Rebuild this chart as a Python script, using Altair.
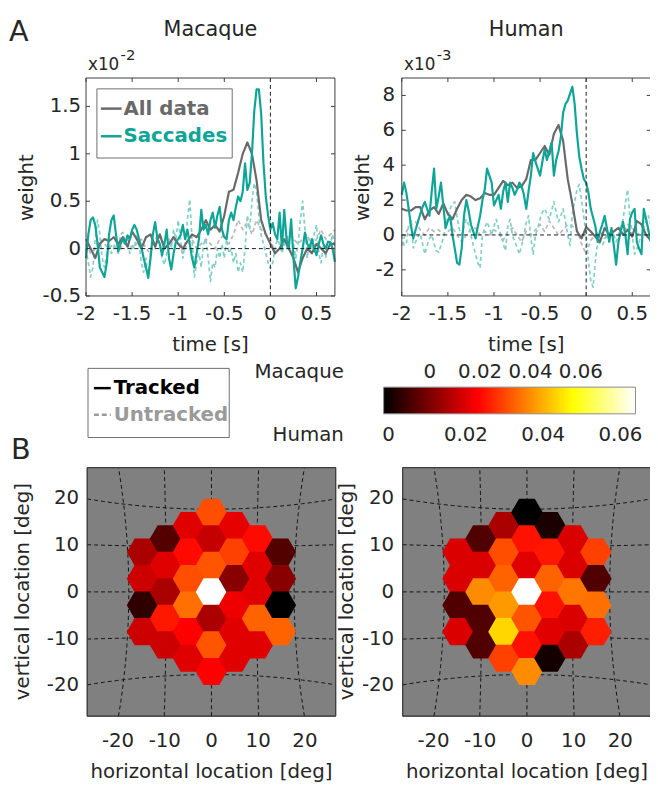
import numpy as np
import pandas as pd
import altair as alt

# ------------------------------------------------------------------ data
T_START = -2.0
STEP_FINE = 0.025     # sampling of the saccade (teal) kernels
STEP_COARSE = 0.05    # sampling of the all-data (gray) kernels

# Macaque kernels (units of 1e-2)
MAC_SACCADES = [
    -0.10, 0.15, 0.30, 0.33, 0.25, 0.05, -0.20, -0.25, -0.30, -0.15,
    0.15, 0.30, 0.35, 0.15, -0.03, 0.05, 0.10, 0.05, 0.14, 0.10,
    0.20, 0.25, 0.20, 0.10, 0.02, -0.10, -0.20, -0.31, -0.10, 0.15,
    0.28, 0.10, 0.05, -0.07, 0.05, 0.20, -0.10, -0.22, -0.05, 0.07,
    0.10, 0.14, 0.25, 0.10, 0.20, 0.05, -0.10, -0.20, -0.05, 0.10,
    0.41, 0.20, 0.25, 0.15, 0.30, 0.38, 0.22, 0.35, 0.44, 0.20,
    0.12, 0.10, 0.30, 0.38, 0.30, 0.44, 0.55, 0.50, 0.60, 0.90,
    0.62, 0.69, 1.00, 1.45, 1.68, 1.68, 1.42, 0.90, 0.55, 0.35,
    0.20, 0.27, 0.15, 0.10, 0.38, 0.00, 0.41, 0.10, 0.00, 0.31,
    -0.10, -0.42, -0.30, -0.14, 0.00, 0.17, 0.05, 0.00, 0.10, 0.00,
    -0.07, 0.05, 0.14, 0.05, 0.00, 0.07, 0.07, 0.00, -0.14,
]
MAC_SACCADES_UNTRACKED = [
    0.00, -0.15, -0.30, -0.20, 0.10, 0.30, 0.15, -0.10, -0.20, -0.05,
    0.05, -0.05, 0.00, 0.10, 0.00, 0.15, 0.17, 0.07, 0.10, -0.05,
    0.05, 0.00, 0.15, 0.05, -0.15, -0.25, -0.10, -0.30, -0.05, 0.10,
    0.00, 0.15, 0.05, -0.10, -0.17, -0.05, 0.10, 0.00, 0.20, 0.10,
    0.30, 0.10, -0.10, 0.05, 0.30, 0.52, 0.10, -0.30, -0.15, -0.05,
    -0.20, 0.05, 0.10, -0.10, -0.35, -0.15, -0.20, 0.00, -0.10, 0.05,
    -0.10, 0.10, -0.05, 0.00, -0.15, -0.05, -0.25, -0.15, -0.25, 0.00,
    0.35, 0.20, 0.50, 0.69, 0.60, 0.34, 0.14, 0.05, -0.05, -0.15,
    -0.21, -0.15, 0.00, 0.10, 0.05, -0.05, 0.05, 0.00, 0.10, 0.20,
    0.05, -0.10, 0.05, 0.30, 0.50, 0.20, -0.10, 0.10, -0.05, 0.15,
    0.25, -0.05, -0.15, 0.05, -0.10, 0.10, 0.05, 0.15, 0.00,
]
MAC_ALL = [
    0.10, 0.00, -0.10, 0.05, 0.10, 0.08, 0.12, 0.05, 0.12, 0.02,
    0.18, 0.10, 0.00, 0.12, 0.15, 0.02, 0.15, 0.00, 0.05, 0.12,
    0.05, 0.00, 0.08, 0.15, 0.12, 0.20, 0.30, 0.20, 0.25, 0.18,
    0.35, 0.60, 0.62, 0.80, 1.00, 1.12, 1.00, 0.72, 0.30, 0.15,
    0.05, -0.05, 0.00, 0.10, 0.00, -0.10, -0.25, -0.10, 0.00, -0.05,
    0.05, 0.00, -0.05, 0.05, 0.05,
]
MAC_ALL_UNTRACKED = [
    0.05, -0.05, 0.00, 0.10, 0.05, 0.00, 0.05, -0.05, 0.05, 0.10,
    0.00, 0.05, 0.10, 0.00, -0.05, 0.10, 0.15, 0.05, 0.00, 0.10,
    0.05, -0.05, 0.05, 0.10, 0.00, 0.05, 0.10, 0.05, 0.00, 0.10,
    0.15, 0.05, 0.15, 0.30, 0.20, 0.28, 0.15, 0.30, 0.20, 0.15,
    0.10, -0.05, 0.00, 0.05, 0.15, 0.10, 0.05, 0.10, 0.15, 0.00,
    0.10, 0.20, 0.10, 0.15, 0.20,
]

# Human kernels (units of 1e-3)
HUM_SACCADES = [
    2.30, 3.00, 2.40, 1.50, 0.50, -0.20, 0.30, 0.75, 1.20, 1.60,
    1.90, 1.50, 1.10, 2.50, 3.80, 1.50, 2.20, 3.00, 1.70, 0.40,
    0.80, 1.10, 0.00, -0.80, -1.60, -1.70, -0.75, 1.10, 2.00, 1.40,
    0.60, 0.20, -0.20, 0.50, 1.10, 2.00, 2.60, 3.80, 3.40, 3.00,
    1.70, 2.00, 2.30, 1.50, 2.50, 3.00, 1.90, 3.00, 2.70, 2.30,
    2.60, 3.00, 2.80, 2.30, 1.50, 2.50, 3.40, 4.70, 4.20, 3.80,
    3.40, 4.20, 4.90, 4.30, 4.80, 5.30, 3.40, 4.30, 4.80, 5.60,
    7.00, 7.50, 7.70, 8.10, 8.50, 7.50, 5.80, 4.50, 3.80, 3.20,
    3.00, 2.40, 1.50, 1.00, 0.50, -0.40, 0.20, 0.60, 1.10, 0.40,
    -0.40, 0.40, -0.60, -1.70, -0.40, 0.20, 0.75, 0.00, -1.10, 0.90,
    1.30, 1.50, -0.40, -0.80, -1.10, 1.50, 0.90, 0.30, -0.40,
]
HUM_SACCADES_UNTRACKED = [
    0.00, -0.60, -0.50, 0.60, 0.80, -0.75, -0.40, -0.10, 0.10, -0.50,
    -1.10, -0.60, -0.20, 0.00, -0.50, -0.90, -1.00, -0.60, -0.20, 0.50,
    1.10, 1.50, 1.80, 1.90, 1.00, 0.30, 0.00, 0.50, 0.90, 0.60,
    0.00, -0.60, -1.10, -1.60, -1.90, 0.00, 0.40, 0.75, 0.40, 0.00,
    0.50, 0.90, 0.40, 0.00, -0.50, -0.90, 0.50, 0.90, 0.00, -0.40,
    -0.70, -1.10, -0.60, 0.00, 0.70, 1.10, -0.20, -1.10, 0.00, 0.40,
    0.90, 1.30, 1.50, 1.20, 0.90, 1.40, 1.90, 1.30, 0.75, 1.10,
    1.50, 0.80, 0.00, -0.60, 1.20, 1.90, 2.60, 2.90, 2.00, 1.00,
    0.00, -1.50, -2.60, -3.00, -1.50, -0.40, -0.50, -0.60, -0.30, 0.00,
    0.10, 0.20, 0.00, -0.40, 0.00, 0.50, 0.90, 1.80, 2.60, 1.00,
    0.00, -1.10, -0.80, -0.40, 0.00, 0.40, 0.80, 1.10, 0.60,
]
HUM_ALL = [
    1.50, 1.40, 1.40, 1.60, 1.60, 0.90, 1.40, 1.60, 1.20, 1.80,
    1.20, 0.90, 1.50, 2.00, 2.30, 2.20, 2.00, 2.10, 2.40, 2.30,
    2.30, 2.70, 3.10, 2.85, 3.00, 2.70, 2.80, 3.20, 4.30, 4.30,
    4.70, 5.10, 4.60, 5.80, 6.30, 5.40, 3.20, 1.80, 0.20, -0.20,
    0.45, 0.20, -0.10, -0.40, 0.40, 0.00, 0.20, 0.40, 0.00, 0.30,
    -0.10, 0.80, 0.60, 0.00, -0.30,
]
HUM_ALL_UNTRACKED = [
    -0.60, 0.20, 0.60, 0.75, 0.30, 0.00, 0.40, 0.20, 0.30, 0.00,
    0.20, 0.40, 0.00, -0.40, 0.00, 0.30, 0.40, 0.00, 0.20, 0.00,
    0.30, 0.10, -0.30, 0.20, 0.40, 0.00, -0.40, 0.20, 0.00, 0.30,
    0.60, 0.20, 0.80, 0.40, 0.00, 0.30, 0.60, 0.50, 0.30, -0.50,
    -1.10, -0.30, 0.00, 0.20, -0.20, 0.00, 0.20, 0.40, 0.10, 0.60,
    0.40, 0.00, 0.20, 0.40, 0.00,
]

TIME_TICKS = [-2, -1.5, -1, -0.5, 0, 0.5]
TIME_LABELS = ["-2", "-1.5", "-1", "-0.5", "0", "0.5"]
MAC_Y_TICKS = [-0.5, 0, 0.5, 1, 1.5]
MAC_Y_LABELS = ["-0.5", "0", "0.5", "1", "1.5"]
HUM_Y_TICKS = [-2, 0, 2, 4, 6, 8]
HUM_Y_LABELS = ["-2", "0", "2", "4", "6", "8"]
LOC_TICKS = [-20, -10, 0, 10, 20]
LOC_LABELS = ["-20", "-10", "0", "10", "20"]
CBAR_TICKS = [0, 0.02, 0.04, 0.06]
CBAR_LABELS = ["0", "0.02", "0.04", "0.06"]

# hexagonal receptive-field grid (column, half-row index)
HEX_COL = [-3] * 4 + [-2] * 5 + [-1] * 6 + [0] * 7 + [1] * 6 + [2] * 5 + [3] * 4
HEX_ROW = [3, 1, -1, -3,
           4, 2, 0, -2, -4,
           5, 3, 1, -1, -3, -5,
           6, 4, 2, 0, -2, -4, -6,
           5, 3, 1, -1, -3, -5,
           4, 2, 0, -2, -4,
           3, 1, -1, -3]
MAC_HEX = [0.0067, 0.0117, -0.0113, 0.0117,
           -0.0058, 0.0147, 0.0067, 0.0227, 0.0117,
           0.0147, 0.0207, 0.0307, 0.0357, 0.0192, 0.0147,
           0.0307, 0.0107, 0.0317, 0.0817, 0.0067, 0.0317, 0.0192,
           0.0157, 0.0287, 0.0017, 0.0167, 0.0147, 0.0147,
           0.0207, 0.0147, 0.0147, 0.0337, 0.0147,
           -0.0063, 0.0017, -0.0183, 0.0337]
HUM_HEX = [0.0196, 0.0196, 0.0065, 0.0196,
           0.0065, 0.0196, 0.0365, 0.0065, 0.0065,
           0.0150, 0.0306, 0.0326, 0.0378, 0.0437, 0.0293,
           -0.0013, 0.0248, 0.0202, 0.0639, 0.0313, 0.0248, 0.0365,
           0.0013, 0.0254, 0.0326, 0.0248, 0.0202, 0.0007,
           0.0196, 0.0196, 0.0346, 0.0196, 0.0150,
           0.0293, 0.0065, 0.0339, 0.0261]
MAC_CLIM = [-0.0183, 0.0817]
HUM_CLIM = [-0.0013, 0.0639]

# curved dashed reference grid: level at centre and at the border
GRID_CENTER = [-17.7, -9.7, 0.0, 9.7, 17.7]
GRID_EDGE = [-19.9, -10.1, 0.0, 10.1, 19.9]

# ------------------------------------------------------------------ style / layout
FONT = "DejaVu Sans"
FS = 20
INK = "#262626"
FRAME = "#3c3c3c"
TEAL = "#0ea597"
TEAL_LIGHT = "#80d0c8"
GRAY = "#696969"
GRAY_LIGHT = "#b8b8b8"
HOT = ["#000000", "#ff0000", "#ffff00", "#ffffff"]
W, H = 650, 782

TOP_Y0, TOP_Y1 = 66.0, 286.7
TL_X0, TL_X1 = 79.0, 331.0
TR_X0, TR_X1 = 398.7, 650.7
BOT_Y0, BOT_Y1 = 460.5, 712.1
BL_X0, BL_X1 = 80.2, 331.8
BR_X0, BR_X1 = 399.6, 651.2
LOC_LIM = 26.6
CB_X0, CB_X1, CB_Y0, CB_Y1 = 380.3, 635.3, 379.0, 406.0


def sc(domain, rng):
    return alt.Scale(domain=domain, range=rng, nice=False, zero=False)


TL_X = sc([-2, 0.7], [TL_X0, TL_X1])
TL_Y = sc([-0.5, 1.8], [TOP_Y1, TOP_Y0])
TR_X = sc([-2, 0.7], [TR_X0, TR_X1])
TR_Y = sc([-3.5, 9], [TOP_Y1, TOP_Y0])
BL_X = sc([-LOC_LIM, LOC_LIM], [BL_X0, BL_X1])
BR_X = sc([-LOC_LIM, LOC_LIM], [BR_X0, BR_X1])
B_Y = sc([-LOC_LIM, LOC_LIM], [BOT_Y1, BOT_Y0])
CB_MAC = sc(MAC_CLIM, [CB_X0, CB_X1])
CB_HUM = sc(HUM_CLIM, [CB_X0, CB_X1])


def times(n, step):
    return np.round(T_START + step * np.arange(n), 4)


def series(vals, step, xs, ys, color, width, dash=None):
    kw = dict(color=color, strokeWidth=width, strokeJoin="round")
    if dash:
        kw["strokeDash"] = dash
    df = pd.DataFrame({"t": times(len(vals), step), "v": vals})
    return alt.Chart(df).mark_line(**kw).encode(
        x=alt.X("t:Q", scale=xs, axis=None), y=alt.Y("v:Q", scale=ys, axis=None))


def txt(s, x, y, size=FS, align="center", angle=0, bold=False, color=INK):
    kw = dict(fontSize=size, align=align, baseline="middle", font=FONT, color=color)
    if angle:
        kw["angle"] = angle
    if bold:
        kw["fontWeight"] = "bold"
    return alt.Chart(pd.DataFrame({"s": [s]})).mark_text(**kw).encode(
        x=alt.value(x), y=alt.value(y), text="s:N")


def box(x1, x2, y1, y2, stroke, width=1.0, fill=None):
    kw = dict(stroke=stroke, strokeWidth=width)
    if fill:
        kw["fill"] = fill
    else:
        kw["fillOpacity"] = 0
    return alt.Chart(pd.DataFrame({"k": [0]})).mark_rect(**kw).encode(
        x=alt.value(x1), x2=alt.value(x2), y=alt.value(y1), y2=alt.value(y2))


def hseg(x1, x2, y, color, width=2.0, dash=None):
    kw = dict(color=color, strokeWidth=width)
    if dash:
        kw["strokeDash"] = dash
    return alt.Chart(pd.DataFrame({"k": [0]})).mark_rule(**kw).encode(
        x=alt.value(x1), x2=alt.value(x2), y=alt.value(y))


def vticks(vals, xs, y1, y2, color=FRAME):
    return alt.Chart(pd.DataFrame({"v": vals})).mark_rule(color=color, strokeWidth=1).encode(
        x=alt.X("v:Q", scale=xs, axis=None), y=alt.value(y1), y2=alt.value(y2))


def hticks(vals, ys, x1, x2, color=FRAME):
    return alt.Chart(pd.DataFrame({"v": vals})).mark_rule(color=color, strokeWidth=1).encode(
        y=alt.Y("v:Q", scale=ys, axis=None), x=alt.value(x1), x2=alt.value(x2))


def xlabels(vals, labels, xs, y, size=FS):
    return alt.Chart(pd.DataFrame({"v": vals, "s": labels})).mark_text(
        fontSize=size, font=FONT, color=INK, baseline="middle", align="center").encode(
        x=alt.X("v:Q", scale=xs, axis=None), y=alt.value(y), text="s:N")


def ylabels(vals, labels, ys, x, size=FS):
    return alt.Chart(pd.DataFrame({"v": vals, "s": labels})).mark_text(
        fontSize=size, font=FONT, color=INK, baseline="middle", align="right").encode(
        y=alt.Y("v:Q", scale=ys, axis=None), x=alt.value(x), text="s:N")


def zero_lines(xs, ys, x0, x1):
    h = alt.Chart(pd.DataFrame({"v": [0]})).mark_rule(
        color="#1a1a1a", strokeWidth=1, strokeDash=[4, 3]).encode(
        y=alt.Y("v:Q", scale=ys, axis=None), x=alt.value(x0), x2=alt.value(x1))
    v = alt.Chart(pd.DataFrame({"v": [0]})).mark_rule(
        color="#1a1a1a", strokeWidth=1, strokeDash=[4, 3]).encode(
        x=alt.X("v:Q", scale=xs, axis=None), y=alt.value(TOP_Y0), y2=alt.value(TOP_Y1))
    return [h, v]


def kernel_panel(sac, sac_u, allv, all_u, xs, ys, x0, x1, yt, ylab, ylab_x):
    layers = [
        series(all_u, STEP_COARSE, xs, ys, GRAY_LIGHT, 1.7, [4, 3]),
        series(sac_u, STEP_FINE, xs, ys, TEAL_LIGHT, 1.7, [4, 3]),
        series(allv, STEP_COARSE, xs, ys, GRAY, 2.2),
        series(sac, STEP_FINE, xs, ys, TEAL, 2.2),
    ]
    layers += zero_lines(xs, ys, x0, x1)
    layers += [
        box(x0, x1, TOP_Y0, TOP_Y1, FRAME, 1.0),
        vticks(TIME_TICKS, xs, TOP_Y1, TOP_Y1 - 4),
        vticks(TIME_TICKS, xs, TOP_Y0, TOP_Y0 + 4),
        hticks(yt, ys, x0, x0 + 4),
        hticks(yt, ys, x1, x1 - 4),
        xlabels(TIME_TICKS, TIME_LABELS, xs, 305),
        ylabels(yt, ylab, ys, ylab_x),
    ]
    return layers


# hex centres in degrees
HEX_R_DEG = 3.28
PX_PER_DEG = (BL_X1 - BL_X0) / (2 * LOC_LIM)
HEX_X = np.array(HEX_COL) * 1.5 * HEX_R_DEG
HEX_Y = np.array(HEX_ROW) * (np.sqrt(3) / 2) * HEX_R_DEG
HEX_SIZE = (2 * HEX_R_DEG * PX_PER_DEG + 0.8) ** 2
HEX_PATH = "M1,0L0.5,0.866L-0.5,0.866L-1,0L-0.5,-0.866L0.5,-0.866Z"


def grid_frame():
    s = np.linspace(-LOC_LIM, LOC_LIM, 61)
    rows = []
    for i, (c, e) in enumerate(zip(GRID_CENTER, GRID_EDGE)):
        lvl = c + (e - c) * (s / LOC_LIM) ** 2
        for k, (a, b) in enumerate(zip(s, lvl)):
            rows.append(("h%d" % i, k, a, b))
            rows.append(("v%d" % i, k, b, a))
    return pd.DataFrame(rows, columns=["g", "k", "x", "y"])


GRID_DF = grid_frame()


def hex_panel(vals, clim, xs, x0, x1, ylab_x):
    span = clim[1] - clim[0]
    cs = alt.Scale(domain=[clim[0], clim[0] + 0.375 * span, clim[0] + 0.75 * span, clim[1]],
                   range=HOT, interpolate="rgb", clamp=True)
    df = pd.DataFrame({"x": HEX_X, "y": HEX_Y, "w": vals})
    grid = alt.Chart(GRID_DF).mark_line(color="#111111", strokeWidth=1, strokeDash=[4, 3]).encode(
        x=alt.X("x:Q", scale=xs, axis=None), y=alt.Y("y:Q", scale=B_Y, axis=None),
        detail="g:N", order="k:Q")
    hexes = alt.Chart(df).mark_point(shape=HEX_PATH, filled=True, opacity=1,
                                     size=HEX_SIZE, strokeWidth=0).encode(
        x=alt.X("x:Q", scale=xs, axis=None), y=alt.Y("y:Q", scale=B_Y, axis=None),
        color=alt.Color("w:Q", scale=cs, legend=None))
    return [
        box(x0, x1, BOT_Y0, BOT_Y1, FRAME, 1.0, fill="#808080"),
        grid,
        hexes,
        box(x0, x1, BOT_Y0, BOT_Y1, FRAME, 1.0),
        xlabels(LOC_TICKS, LOC_LABELS, xs, 737),
        ylabels(LOC_TICKS, LOC_LABELS, B_Y, ylab_x),
    ]


layers = []
# panel A titles
layers += [txt("A", 1, 20, size=29, align="left"),
           txt("Macaque", 205, 17, size=21),
           txt("Human", 524.7, 17, size=21)]
# macaque kernel
layers += kernel_panel(MAC_SACCADES, MAC_SACCADES_UNTRACKED, MAC_ALL, MAC_ALL_UNTRACKED,
                       TL_X, TL_Y, TL_X0, TL_X1, MAC_Y_TICKS, MAC_Y_LABELS, 74)
layers += [txt("x10", 81, 53, size=17, align="left"), txt("-2", 114, 43, size=15, align="left"),
           txt("weight", 19, 177, angle=270), txt("time [s]", 205, 336)]
# legend inside macaque panel
layers += [box(90, 227, 77, 147, "#6e6e6e", 1.0, fill="#ffffff"),
           hseg(94, 115, 97, GRAY, 2.5), txt("All data", 117, 97, align="left", bold=True, color=GRAY),
           hseg(94, 115, 125, TEAL, 2.5), txt("Saccades", 117, 125, align="left", bold=True, color=TEAL)]
# human kernel
layers += kernel_panel(HUM_SACCADES, HUM_SACCADES_UNTRACKED, HUM_ALL, HUM_ALL_UNTRACKED,
                       TR_X, TR_Y, TR_X0, TR_X1, HUM_Y_TICKS, HUM_Y_LABELS, 392)
layers += [txt("x10", 401, 53, size=17, align="left"), txt("-3", 434, 43, size=15, align="left"),
           txt("weight", 359.5, 177, angle=270), txt("time [s]", 524.7, 336)]
# tracked / untracked legend
layers += [box(81, 224, 360, 430, "#6e6e6e", 1.0, fill="#ffffff"),
           hseg(87, 104, 380, "#000000", 2.5), txt("Tracked", 107, 380, align="left", bold=True, color="#000000"),
           hseg(87, 104, 407, "#9a9a9a", 2.5, [5, 3]),
           txt("Untracked", 107, 407, align="left", bold=True, color="#9a9a9a")]
# colour bar
grad = alt.Gradient(gradient="linear", x1=0, x2=1, y1=0, y2=0,
                    stops=[alt.GradientStop(color=HOT[0], offset=0),
                           alt.GradientStop(color=HOT[1], offset=0.375),
                           alt.GradientStop(color=HOT[2], offset=0.75),
                           alt.GradientStop(color=HOT[3], offset=1)])
layers += [alt.Chart(pd.DataFrame({"k": [0]})).mark_rect(fill=grad, stroke="#8a8a8a", strokeWidth=1).encode(
               x=alt.value(CB_X0), x2=alt.value(CB_X1), y=alt.value(CB_Y0), y2=alt.value(CB_Y1)),
           xlabels(CBAR_TICKS, CBAR_LABELS, CB_MAC, 364),
           xlabels(CBAR_TICKS, CBAR_LABELS, CB_HUM, 428),
           txt("Macaque", 340, 364, size=20, align="right"),
           txt("Human", 340, 428, size=20, align="right")]
# panel B
layers += [txt("B", 3, 443, size=29, align="left")]
layers += hex_panel(MAC_HEX, MAC_CLIM, BL_X, BL_X0, BL_X1, 72)
layers += [txt("vertical location [deg]", 15, 586, angle=270),
           txt("horizontal location [deg]", 206, 769)]
layers += hex_panel(HUM_HEX, HUM_CLIM, BR_X, BR_X0, BR_X1, 391)
layers += [txt("vertical location [deg]", 343, 586, angle=270),
           txt("horizontal location [deg]", 525.4, 769)]

chart = alt.layer(*layers).resolve_scale(
    x="independent", y="independent", color="independent"
).properties(
    width=W, height=H, padding=0, autosize=alt.AutoSizeParams(type="none")
).configure_view(strokeWidth=0)

chart.save("out.html", embed_options={"renderer": "svg", "actions": False})
